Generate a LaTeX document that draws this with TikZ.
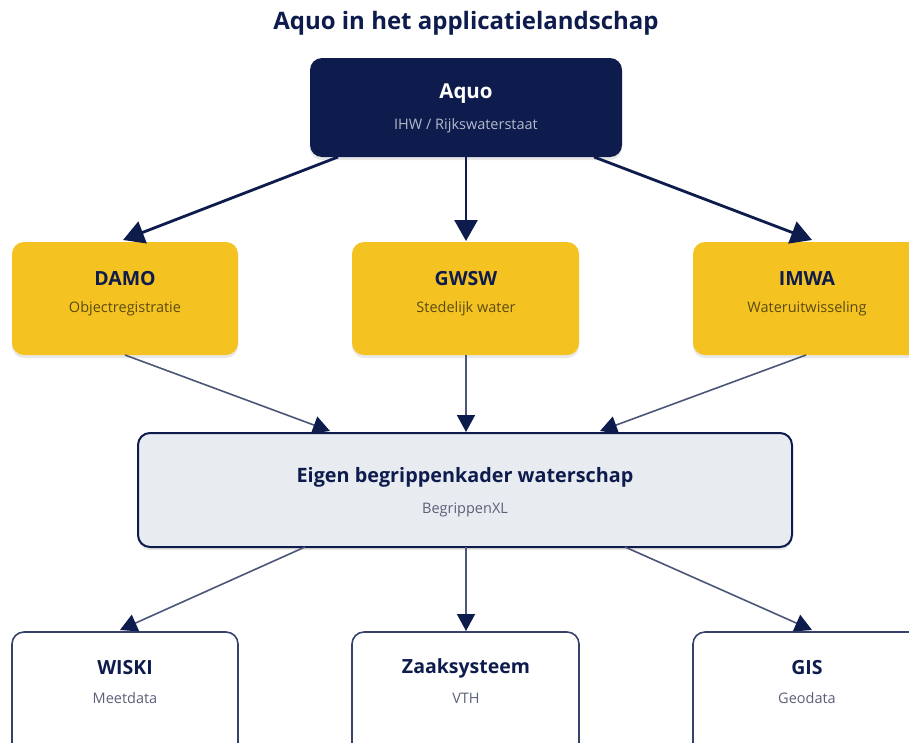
\documentclass[tikz,border=0pt]{standalone}
\usepackage{fontspec}
\setmainfont{Open Sans}
\usetikzlibrary{arrows.meta,shadows}
\definecolor{navy}{HTML}{0E1C4D}
\definecolor{gold}{HTML}{F4C322}
\definecolor{pale}{HTML}{E8EBF0}
\definecolor{edgegrey}{HTML}{4C5678}
\definecolor{bordergrey}{HTML}{36426C}
\definecolor{subgold}{HTML}{5B4A12}
\definecolor{subnavy}{HTML}{B4B9CC}
\definecolor{subgrey}{HTML}{5A6178}
\tikzset{
  box/.style={rounded corners=12pt, drop shadow={opacity=0.18, shadow xshift=0pt, shadow yshift=-3pt}},
  topbox/.style={box, fill=navy, draw=none},
  midbox/.style={box, fill=gold, draw=none},
  hubbox/.style={box, fill=pale, draw=navy, line width=2pt},
  botbox/.style={box, fill=white, draw=bordergrey, line width=1.6pt},
  lbl/.style={anchor=center, inner sep=0pt},
  ttl/.style={lbl, text=navy, font=\bfseries\fontsize{19.5}{23}\selectfont},
  sub/.style={lbl, font=\fontsize{14.5}{17}\selectfont},
  bigarrow/.style={draw=navy, line width=2.8pt, -{Triangle[length=21pt,width=23pt]}},
  thinarrow/.style={draw=edgegrey, line width=1.6pt, -{Triangle[length=17pt,width=18pt,fill=navy,color=navy]}},
}
\begin{document}
\begin{tikzpicture}[x=1pt,y=-1pt]
\clip (0,0) rectangle (909,742);
\fill[white] (0,0) rectangle (909,742);
% title
\node[lbl, text=navy, font=\bfseries\fontsize{24}{28}\selectfont] (title) at (466,23) {Aquo in het applicatielandschap};
% boxes
\path[topbox] (310,58) rectangle (622,157);
\node[lbl, text=white, font=\bfseries\fontsize{20.5}{24}\selectfont] (aquoT) at (466,94) {Aquo};
\node[sub, text=subnavy] (aquoS) at (466,126) {IHW / Rijkswaterstaat};

\path[midbox] (12,242) rectangle (238,355);
\path[midbox] (352,242) rectangle (579,355);
\path[midbox] (693,242) rectangle (922,355);
\node[ttl] (damoT) at (125,279) {DAMO};
\node[sub, text=subgold] (damoS) at (125,309) {Objectregistratie};
\node[ttl] (gwswT) at (466,279) {GWSW};
\node[sub, text=subgold] (gwswS) at (466,309) {Stedelijk water};
\node[ttl] (imwaT) at (807,279) {IMWA};
\node[sub, text=subgold] (imwaS) at (807,309) {Wateruitwisseling};

\path[hubbox] (138,433) rectangle (792,547);
\node[lbl, text=navy, font=\bfseries\fontsize{19.8}{23}\selectfont] (hubT) at (465,477) {Eigen begrippenkader waterschap};
\node[sub, text=subgrey] (hubS) at (465,510) {BegrippenXL};

\path[botbox] (12,632) rectangle (238,760);
\path[botbox] (352,632) rectangle (579,760);
\path[botbox] (693,632) rectangle (922,760);
\node[ttl] (wiskiT) at (125,668) {WISKI};
\node[sub, text=subgrey] (wiskiS) at (125,698) {Meetdata};
\node[ttl] (zaakT) at (466,668) {Zaaksysteem};
\node[sub, text=subgrey] (zaakS) at (466,698) {VTH};
\node[ttl] (gisT) at (807,668) {GIS};
\node[sub, text=subgrey] (gisS) at (807,698) {Geodata};

% connector endpoints
\coordinate (a1) at (338,157); \coordinate (a2) at (466,157); \coordinate (a3) at (594,157);
\coordinate (d0) at (123,240); \coordinate (g0) at (466,241); \coordinate (i0) at (812,240);
\coordinate (d1) at (125,355); \coordinate (g1) at (466,355); \coordinate (i1) at (806,355);
\coordinate (h1) at (330,431); \coordinate (h2) at (466,432); \coordinate (h3) at (600,431);
\coordinate (b1) at (305,547); \coordinate (b2) at (466,547); \coordinate (b3) at (625,547);
\coordinate (w0) at (120,630); \coordinate (z0) at (466,631); \coordinate (s0) at (812,630);

\draw[bigarrow] (a1) -- (d0);
\draw[bigarrow] (a2) -- (g0);
\draw[bigarrow] (a3) -- (i0);
\draw[thinarrow] (d1) -- (h1);
\draw[thinarrow] (g1) -- (h2);
\draw[thinarrow] (i1) -- (h3);
\draw[thinarrow] (b1) -- (w0);
\draw[thinarrow] (b2) -- (z0);
\draw[thinarrow] (b3) -- (s0);
\end{tikzpicture}
\end{document}
